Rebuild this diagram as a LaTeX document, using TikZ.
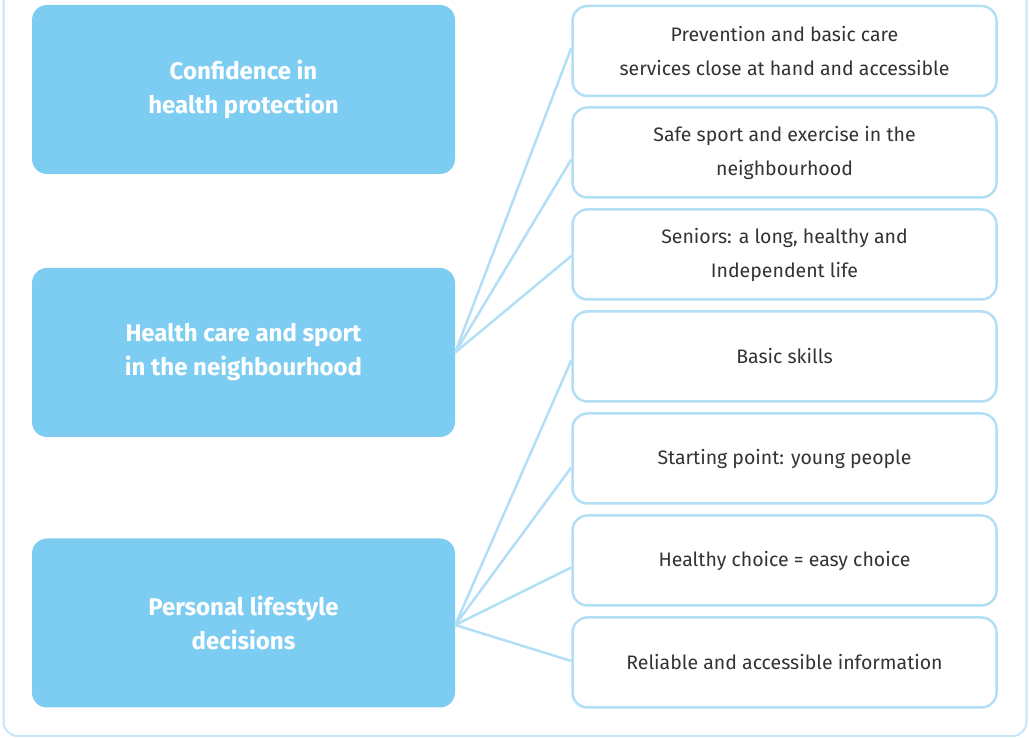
\documentclass[tikz,border=0pt]{standalone}
\usepackage{fontspec}
\setmainfont{Fira Sans}
\definecolor{mainblue}{HTML}{7DCDF2}
\definecolor{lineblue}{HTML}{B2DFF6}
\definecolor{frameblue}{HTML}{C6E7F8}
\definecolor{txt}{HTML}{333333}
\tikzset{
  x=1pt,y=1pt,
  leftbox/.style={rectangle, rounded corners=15pt, fill=mainblue, minimum width=423pt, minimum height=169pt, text=white, font=\fontsize{24}{34}\selectfont\bfseries, align=center, inner sep=0pt},
  rightbox/.style={rectangle, rounded corners=15pt, draw=lineblue, line width=2.5pt, fill=white, minimum width=424pt, minimum height=90pt, text=txt, font=\fontsize{19.5}{34}\selectfont, align=center, inner sep=0pt},
  conn/.style={draw=lineblue, line width=2.5pt}
}
\begin{document}
\begin{tikzpicture}
\useasboundingbox (0,0) rectangle (1029,738);
\clip (0,0) rectangle (1029,738);
\draw[frameblue, line width=2pt, rounded corners=14pt] (3.5,2) rectangle (1026.5,780);
% left boxes
\node[leftbox] (l1) at (243.5,648.5) {Confidence in\\health protection};
\node[leftbox] (l2) at (243.5,385.5) {Health care and sport\\in the neighbourhood};
\node[leftbox] (l3) at (243.5,115) {Personal lifestyle\\decisions};
% right boxes
\node[rightbox] (r1) at (784.5,687) {Prevention and basic care\\services close at hand and accessible};
\node[rightbox] (r2) at (784.5,585.5) {Safe sport and exercise in the\\neighbourhood};
\node[rightbox] (r3) at (784.5,483.5) {Seniors: a long, healthy and\\Independent life};
\node[rightbox] (r4) at (784.5,381.5) {Basic skills};
\node[rightbox] (r5) at (784.5,279.5) {Starting point: young people};
\node[rightbox] (r6) at (784.5,177.5) {Healthy choice = easy choice};
\node[rightbox] (r7) at (784.5,75.5) {Reliable and accessible information};
% connectors
\draw[conn] (l2.east) -- ([yshift=3pt]r1.west);
\draw[conn] (l2.east) -- ([yshift=-7pt]r2.west);
\draw[conn] (l2.east) -- ([yshift=-1.5pt]r3.west);
\draw[conn] ([yshift=-2pt]l3.east) -- ([yshift=-4pt]r4.west);
\draw[conn] ([yshift=-2pt]l3.east) -- ([yshift=-9pt]r5.west);
\draw[conn] ([yshift=-2pt]l3.east) -- ([yshift=-7pt]r6.west);
\draw[conn] ([yshift=-2pt]l3.east) -- ([yshift=1.5pt]r7.west);
\end{tikzpicture}
\end{document}
